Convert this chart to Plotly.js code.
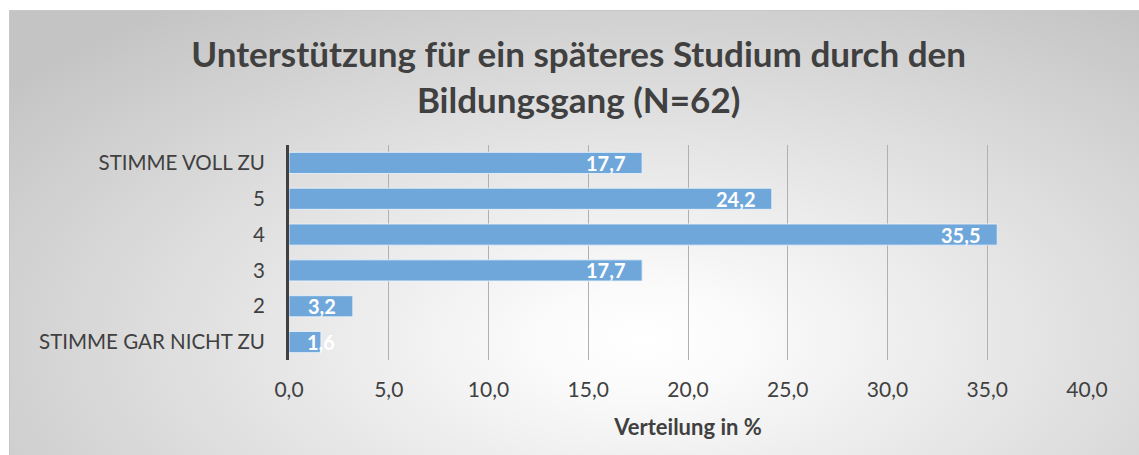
<!DOCTYPE html>
<html>
<head>
<meta charset="utf-8">
<script src="https://cdn.plot.ly/plotly-3.0.1.min.js"></script>
<style>
  html, body { margin: 0; padding: 0; background: #ffffff; }
  #frame {
    position: absolute; left: 9px; top: 10px; width: 1130px; height: 445px;
    background: radial-gradient(ellipse 72% 92% at 56% 74%, #ffffff 0%, #fbfbfb 12%, #c4c4c4 100%);
    border-top: 1px solid #c8c8c8; border-left: 1px solid #c8c8c8;
    box-sizing: border-box;
  }
  #chart { position: absolute; left: 0; top: 0; width: 1139px; height: 455px; }
</style>
</head>
<body>
<div id="frame"></div>
<div id="chart"></div>
<script>
const categories = ["STIMME GAR NICHT ZU", "2", "3", "4", "5", "STIMME VOLL ZU"];
const values = [1.6, 3.2, 17.7, 35.5, 24.2, 17.7];
const xTickValues = [0, 5, 10, 15, 20, 25, 30, 35, 40];
const titleText = "Unterstützung für ein späteres Studium durch den<br>Bildungsgang (N=62)";
const xTitleText = "Verteilung in %";

const fmt = v => v.toFixed(1).replace('.', ',');

const trace = {
  type: 'bar',
  orientation: 'h',
  y: categories,
  x: values,
  width: 0.59,
  marker: { color: 'rgb(112,167,219)', line: { color: 'rgba(235,242,250,0.85)', width: 1 } },
  hoverinfo: 'skip'
};

const annotations = values.map((v, i) => ({
  x: v, y: i, xref: 'x', yref: 'y',
  text: '<b>' + fmt(v) + '</b>',
  showarrow: false,
  xanchor: v < 2.5 ? 'center' : 'right',
  xshift: v < 2.5 ? 0 : -15,
  font: { family: 'Lato, sans-serif', size: 20, color: '#ffffff' }
}));

const layout = {
  width: 1139, height: 455,
  paper_bgcolor: 'rgba(0,0,0,0)',
  plot_bgcolor: 'rgba(0,0,0,0)',
  margin: { l: 289, r: 52, t: 145, b: 95 },
  separators: ',.',
  title: {
    text: '<b>' + titleText + '</b>',
    x: 0.508, xanchor: 'center', y: 0.852, yanchor: 'top',
    font: { family: 'Lato, sans-serif', size: 35, color: '#404040' }
  },
  xaxis: {
    range: [0, 40],
    tickvals: xTickValues,
    ticktext: xTickValues.map(fmt),
    showgrid: true, gridcolor: '#b0b0b0', gridwidth: 1,
    zeroline: false, showline: false,
    ticks: '', ticklen: 0, ticklabelstandoff: 15,
    tickfont: { family: 'Lato, sans-serif', size: 21, color: '#404040' },
    title: { text: '<b>' + xTitleText + '</b>', font: { family: 'Lato, sans-serif', size: 22, color: '#404040' }, standoff: 19 },
    fixedrange: true
  },
  yaxis: {
    type: 'category',
    categoryorder: 'array', categoryarray: categories,
    showline: true, linecolor: '#404040', linewidth: 3,
    showgrid: false, zeroline: false,
    ticks: '', ticklabelstandoff: 17,
    tickfont: { family: 'Lato, sans-serif', size: 20.5, color: '#404040' },
    fixedrange: true
  },
  bargap: 0.4,
  showlegend: false,
  annotations: annotations
};

Plotly.newPlot('chart', [trace], layout, { displayModeBar: false, staticPlot: true });
</script>
</body>
</html>
